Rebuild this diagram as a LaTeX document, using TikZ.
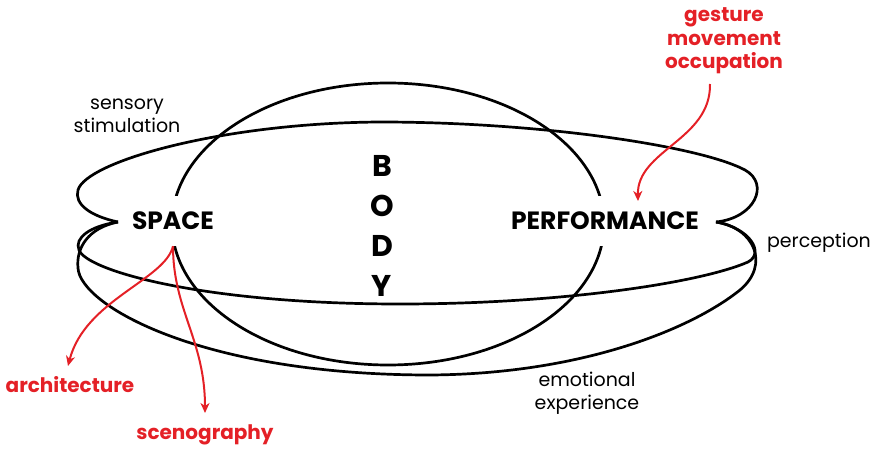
\documentclass[tikz,border=0pt]{standalone}
\usepackage{fontspec}
\setmainfont{Poppins}
\usetikzlibrary{arrows.meta}
\definecolor{accent}{RGB}{228,32,38}
\begin{document}
\begin{tikzpicture}[x=1pt,y=-1pt,
  loop/.style={line width=2.7pt,black},
  pointer/.style={line width=2pt,accent,-{Stealth[length=10pt,width=9pt,inset=3pt]}},
  hub/.style={font=\fontsize{25}{28}\selectfont\bfseries,fill=white,inner xsep=1pt,minimum height=50pt},
  note/.style={font=\fontsize{19}{23.5}\selectfont,align=center},
  rednote/.style={font=\fontsize{20}{23.5}\selectfont\bfseries,text=accent,align=center}]
\useasboundingbox (0,0) rectangle (876,449);

% BODY oval
\draw[loop] (388,224) ellipse[x radius=216,y radius=141];

% upper loop
\draw[loop] (118,222) .. controls (90,216) and (74,204) .. (78,190)
  .. controls (86,162) and (220,123) .. (380,122)
  .. controls (540,122) and (700,146) .. (745,170)
  .. controls (770,184) and (755,218) .. (716,222);
% middle loop
\draw[loop] (118,222) .. controls (90,226) and (74,238) .. (79,250)
  .. controls (86,270) and (200,304) .. (400,304)
  .. controls (560,304) and (700,283) .. (748,262)
  .. controls (765,253) and (750,228) .. (716,222);
% lower loop
\draw[loop] (118,222) .. controls (88,228) and (76,248) .. (78,268)
  .. controls (80,305) and (200,375) .. (430,375)
  .. controls (580,374) and (690,330) .. (740,290)
  .. controls (770,265) and (755,228) .. (716,222);

% hubs
\node[hub] (space) at (173,221) {SPACE};
\node[hub] (perf) at (605,221) {PERFORMANCE};
\node[font=\fontsize{30}{40}\selectfont\bfseries,align=center] (body) at (382,226) {B\\O\\D\\Y};

% plain labels
\node[note] (sens) at (127,116) {sensory\\stimulation};
\node[note] (perc) at (819,243) {perception};
\node[note] (emo) at (587,393) {emotional\\experience};

% red labels
\node[rednote] (gmo) at (724,41) {gesture\\movement\\occupation};
\node[rednote] (arch) at (70,385) {architecture};
\node[rednote] (sceno) at (205,435) {scenography};

\coordinate (gmostart) at (710,84);
\coordinate (perfin) at (638,201);
\coordinate (archin) at (68,366);
\coordinate (scenoin) at (205,413);

\draw[pointer] (gmostart) .. controls (711,140) and (637,150) .. (perfin);
\draw[pointer] (space.south) .. controls (165,280) and (85,300) .. (archin);
\draw[pointer] (space.south) .. controls (173,310) and (205,340) .. (scenoin);
\end{tikzpicture}
\end{document}
